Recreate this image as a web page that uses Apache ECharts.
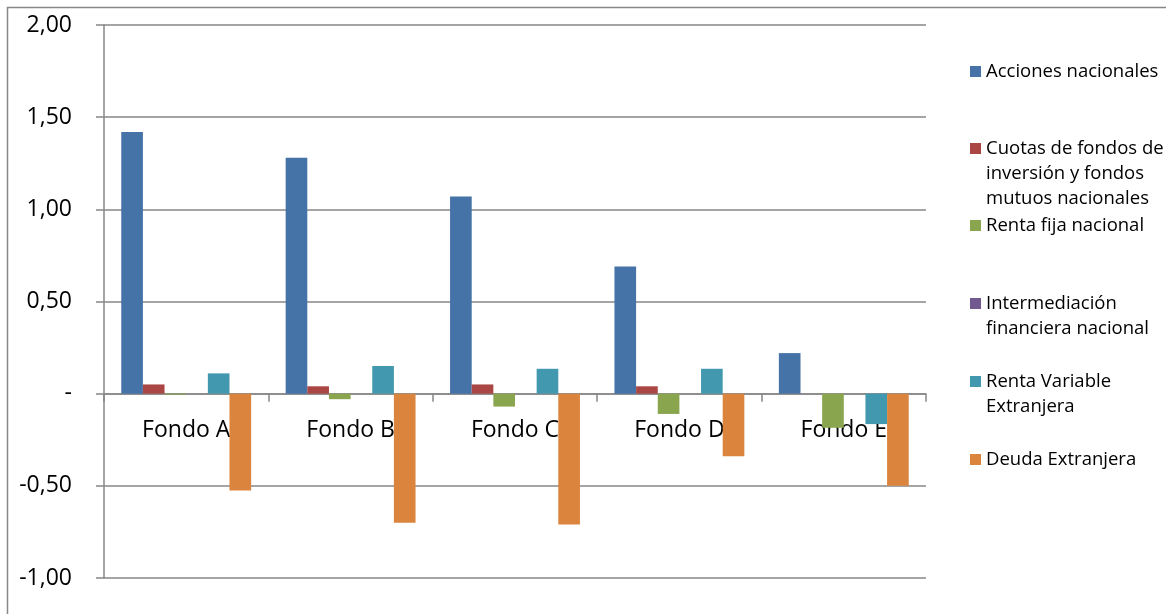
<!DOCTYPE html>
<html>
<head>
<meta charset="utf-8">
<script src="https://cdn.jsdelivr.net/npm/echarts@6/dist/echarts.min.js"></script>
<style>
html,body{margin:0;padding:0;background:#fff;}
#chart{width:1166px;height:614px;}
</style>
</head>
<body>
<div id="chart"></div>
<script>
var categories = ['Fondo A', 'Fondo B', 'Fondo C', 'Fondo D', 'Fondo E'];
var seriesNames = [
  'Acciones nacionales',
  'Cuotas de fondos de inversión y fondos mutuos nacionales',
  'Renta fija nacional',
  'Intermediación financiera nacional',
  'Renta Variable Extranjera',
  'Deuda Extranjera'
];
var legendLabels = [
  'Acciones nacionales',
  'Cuotas de fondos de\ninversión y fondos\nmutuos nacionales',
  'Renta fija nacional',
  'Intermediación\nfinanciera nacional',
  'Renta Variable\nExtranjera',
  'Deuda Extranjera'
];
var accionesNacionales = [1.42, 1.28, 1.07, 0.69, 0.22];
var cuotasFondos = [0.05, 0.04, 0.05, 0.04, 0];
var rentaFijaNacional = [-0.005, -0.03, -0.07, -0.11, -0.185];
var intermediacionFinanciera = [0, 0, 0, 0, 0];
var rentaVariableExtranjera = [0.11, 0.15, 0.135, 0.135, -0.165];
var deudaExtranjera = [-0.525, -0.70, -0.71, -0.34, -0.50];
var colors = ['#4572A7', '#AA4643', '#89A54E', '#71588F', '#4198AF', '#DB843D'];
var yTicks = {min: -1, max: 2, interval: 0.5};

var allData = [accionesNacionales, cuotasFondos, rentaFijaNacional, intermediacionFinanciera, rentaVariableExtranjera, deudaExtranjera];

var FONT = '"Open Sans", sans-serif';
var LINE_H = 25;
var legendTops = [59, 136, 213, 291, 369, 447];

// grid geometry
var GRID_TOP = 25, GRID_BOTTOM = 36, CHART_H = 614;
var plotH = CHART_H - GRID_TOP - GRID_BOTTOM;
// distance from the bottom of the plot up to the zero line
var zeroOffset = plotH * (0 - yTicks.min) / (yTicks.max - yTicks.min);

function iconPath(lines) {
  var H = lines * LINE_H;
  return 'path://M0,7h11v11h-11z M0,0h0.01v0.01h-0.01z M0,' + (H - 0.01) + 'h0.01v0.01h-0.01z';
}

var legends = seriesNames.map(function (name, i) {
  var lines = legendLabels[i].split('\n').length;
  return {
    data: [{name: name, icon: iconPath(lines)}],
    left: 970,
    top: legendTops[i],
    orient: 'vertical',
    itemWidth: 11,
    itemHeight: lines * LINE_H,
    itemGap: 0,
    padding: 0,
    selectedMode: false,
    formatter: function () { return legendLabels[i]; },
    textStyle: {fontFamily: FONT, fontSize: 18.5, color: '#000', lineHeight: LINE_H, padding: [0, 0, 0, 0]}
  };
});

var series = seriesNames.map(function (name, i) {
  return {
    name: name,
    type: 'bar',
    data: allData[i],
    barGap: '0%',
    barCategoryGap: '21%',
    itemStyle: {color: colors[i]},
    emphasis: {disabled: true}
  };
});

var chart = echarts.init(document.getElementById('chart'), null, {renderer: 'canvas'});
chart.setOption({
  animation: false,
  backgroundColor: '#fff',
  color: colors,
  legend: legends,
  grid: {left: 104, right: 240, top: GRID_TOP, bottom: GRID_BOTTOM, containLabel: false, outerBoundsMode: 'none'},
  xAxis: {
    type: 'category',
    data: categories,
    position: 'bottom',
    offset: -zeroOffset,
    axisLine: {onZero: false, lineStyle: {color: '#878787', width: 1.5}},
    axisTick: {show: true, inside: false, length: 8, alignWithLabel: false, lineStyle: {color: '#878787', width: 1.5}},
    axisLabel: {fontFamily: FONT, fontSize: 23, color: '#000', margin: 25},
    splitLine: {show: false},
    z: 0
  },
  yAxis: {
    type: 'value',
    min: yTicks.min,
    max: yTicks.max,
    interval: yTicks.interval,
    axisLine: {show: true, lineStyle: {color: '#878787', width: 1.5}},
    axisTick: {show: true, inside: false, length: 8, lineStyle: {color: '#878787', width: 1.5}},
    axisLabel: {
      fontFamily: FONT, fontSize: 23, color: '#000', margin: 32,
      formatter: function (v) {
        if (Math.abs(v) < 1e-9) return '-';
        return v.toFixed(2).replace('.', ',');
      }
    },
    splitLine: {show: true, lineStyle: {color: '#878787', width: 1.5}}
  },
  graphic: [{
    type: 'rect',
    shape: {x: 7.5, y: 7.5, width: 1300, height: 800},
    style: {fill: null, stroke: '#878787', lineWidth: 1.5},
    silent: true,
    z: -1
  }],
  series: series
});
</script>
</body>
</html>
